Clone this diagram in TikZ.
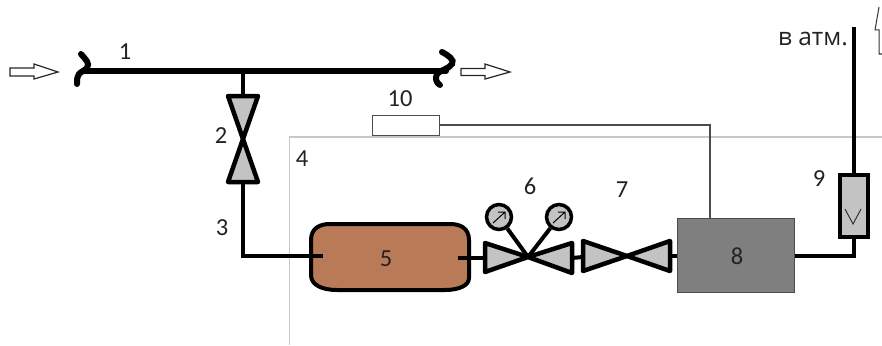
\documentclass[tikz,border=0pt]{standalone}
\usepackage{fontspec}
\setmainfont{Carlito}
\newfontfamily\atmfont{Open Sans}
\definecolor{valvegray}{HTML}{C3C3C3}
\definecolor{boxgray}{HTML}{7F7F7F}
\definecolor{tankbrown}{HTML}{B97A57}
\definecolor{framegray}{HTML}{C8C8C8}
\definecolor{labelink}{HTML}{222222}
\tikzset{
  pipe/.style={draw=black,line width=4pt},
  mainpipe/.style={draw=black,line width=6pt,line cap=round},
  valvetri/.style={draw=black,fill=valvegray,line width=4.5pt,line join=round},
  gaugebody/.style={circle,draw=black,fill=valvegray,line width=3.5pt,minimum size=25pt,inner sep=0pt},
  hollowarrow/.style={draw=black!85,fill=white,line width=1.2pt,line join=miter},
  lbl/.style={font=\fontsize{24.5}{26}\selectfont,text=labelink,inner sep=0pt},
  atmlbl/.style={font=\atmfont\fontsize{24.5}{26}\selectfont,text=labelink,inner sep=0pt},
  thinwire/.style={draw=black!70,line width=1.3pt}
}
\begin{document}
\begin{tikzpicture}[x=1pt,y=-1pt]
\useasboundingbox (0,0) rectangle (882,345);
% frame 4
\draw[framegray,line width=1.4pt] (289.5,345) -- (289.5,137) -- (882,137);
% main line
\coordinate (mainL) at (85,71);
\coordinate (mainR) at (446,71);
\coordinate (tee) at (243,71);
\draw[mainpipe] (mainL) -- (mainR);
\draw[mainpipe] (81,54) .. controls (86,60) and (90,63) .. (87,68) .. controls (84,72) and (76,71) .. (77,84);
\draw[mainpipe] (442,52) .. controls (448,55) and (455,60) .. (452,64) .. controls (449,69) and (440,70) .. (437,74) .. controls (435,78) and (436,83) .. (440,85);
% hollow arrows
\draw[hollowarrow] (10,68) -- (34,68) -- (34,64) -- (58,72) -- (34,79) -- (34,76) -- (10,76) -- cycle;
\draw[hollowarrow] (461,68.5) -- (485,68.5) -- (485,64) -- (510,72) -- (485,79) -- (485,75.5) -- (461,75.5) -- cycle;
% valve 2
\coordinate (v2c) at (243,139);
\coordinate (v2t) at (243,96);
\coordinate (v2b) at (243,182);
\draw[pipe] (tee) -- (v2t);
\draw[valvetri] (228,96) -- (258,96) -- (v2c) -- cycle;
\draw[valvetri] (228,182) -- (258,182) -- (v2c) -- cycle;
% tank
\draw[draw=black,fill=tankbrown,line width=4pt]
  (330,224) -- (450,224) .. controls (460,224) and (469,228) .. (469,240)
  -- (469,278) .. controls (469,285) and (460,290) .. (445,290)
  -- (337,290) .. controls (322,290) and (311,285) .. (311,275)
  -- (311,240) .. controls (311,228) and (320,224) .. (330,224) -- cycle;
\coordinate (tankin) at (323,256);
\coordinate (tankout) at (458,258);
\draw[pipe,line join=miter] (v2b) -- (243,256) -- (tankin);
% valve 6
\coordinate (v6c) at (528,257);
\coordinate (v6l) at (485,258);
\coordinate (v6r) at (572,258);
\draw[pipe] (tankout) -- (v6l);
\node[gaugebody] (g1) at (499,217) {};
\node[gaugebody] (g2) at (559,217) {};
\draw[pipe] (g1) -- (v6c);
\draw[pipe] (g2) -- (v6c);
\draw[valvetri] (485,243) -- (485,272) -- (v6c) -- cycle;
\draw[valvetri] (572,243) -- (572,273) -- (v6c) -- cycle;
\draw[black,line width=1pt] (493,223) -- (505,212) (498,212) -- (505,212) -- (505,219);
\draw[black,line width=1pt] (553,223) -- (565,212) (558,212) -- (565,212) -- (565,219);
% valve 7
\coordinate (v7c) at (627,256);
\coordinate (v7l) at (583,257);
\coordinate (v7r) at (670,256);
\draw[pipe] (v6r) -- (v7l);
\draw[valvetri] (583,241) -- (583,271) -- (v7c) -- cycle;
\draw[valvetri] (670,241) -- (670,271) -- (v7c) -- cycle;
% box 8
\node[draw=black!70,fill=boxgray,line width=1pt,minimum width=117pt,minimum height=74pt,inner sep=0pt] (b8) at (735.5,255) {};
\draw[pipe] (v7r) -- (b8.west |- v7r);
% box 9
\node[draw=black,fill=valvegray,line width=4pt,minimum width=28pt,minimum height=62pt,inner sep=0pt] (b9) at (854,206) {};
\draw[pipe,line join=miter] (b8.east |- 0,256) -- (854,256) -- (b9.south);
\coordinate (atm) at (854,27);
\draw[pipe] (atm) -- (b9.north);
\draw[black!80,line width=1pt] (845,209) -- (853,224) -- (861,209);
% lightning
\draw[black!80,line width=1pt] (879,7) -- (875,30) -- (879,30) -- (879,54) -- (882,54);
% box 10
\node[draw=black!70,fill=white,line width=1pt,minimum width=67pt,minimum height=20pt,inner sep=0pt] (b10) at (405.5,125) {};
\draw[thinwire] (b10.east) -- (710,125) -- (710,218);
% labels
\node[lbl] (l1) at (125,52) {1};
\node[lbl] (l2) at (221,136) {2};
\node[lbl] (l3) at (222,228) {3};
\node[lbl] (l4) at (302,159) {4};
\node[lbl] (l5) at (386,259) {5};
\node[lbl] (l6) at (530,186) {6};
\node[lbl] (l7) at (622,190) {7};
\node[lbl] (l8) at (737,256) {8};
\node[lbl] (l9) at (819,179) {9};
\node[lbl] (l10) at (400,99) {10};
\node[atmlbl] (latm) at (813,39) {в атм.};
\end{tikzpicture}
\end{document}
